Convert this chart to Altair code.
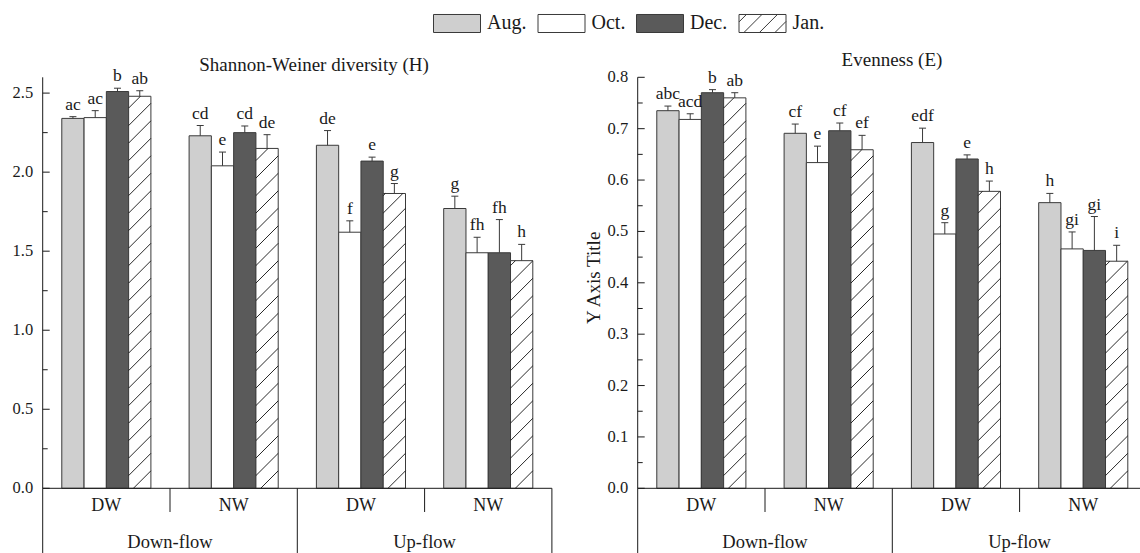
import altair as alt
import pandas as pd

# ---------------- data ----------------
MONTHS = ["Aug.", "Oct.", "Dec.", "Jan."]
SITES = ["DW", "NW", "DW", "NW"]
FLOWS = ["Down-flow", "Up-flow"]

# Shannon-Weiner diversity (H): groups Down-DW, Down-NW, Up-DW, Up-NW; months Aug, Oct, Dec, Jan
H_VALUES = [2.34, 2.345, 2.51, 2.48,
            2.23, 2.04, 2.25, 2.15,
            2.17, 1.62, 2.07, 1.865,
            1.77, 1.49, 1.49, 1.44]
H_ERRORS = [0.011, 0.044, 0.021, 0.035,
            0.065, 0.087, 0.042, 0.087,
            0.093, 0.072, 0.025, 0.063,
            0.078, 0.098, 0.21, 0.103]
H_LETTERS = ["ac", "ac", "b", "ab",
             "cd", "e", "cd", "de",
             "de", "f", "e", "g",
             "g", "fh", "fh", "h"]

# Evenness (E)
E_VALUES = [0.735, 0.718, 0.770, 0.760,
            0.691, 0.634, 0.696, 0.659,
            0.673, 0.495, 0.641, 0.578,
            0.556, 0.466, 0.463, 0.442]
E_ERRORS = [0.009, 0.011, 0.006, 0.010,
            0.018, 0.032, 0.015, 0.028,
            0.028, 0.022, 0.008, 0.020,
            0.018, 0.033, 0.066, 0.031]
E_LETTERS = ["abc", "acd", "b", "ab",
             "cf", "e", "cf", "ef",
             "edf", "g", "e", "h",
             "h", "gi", "gi", "i"]

H_MAX = 2.6
E_MAX = 0.8
H_MAJOR = [0.0, 0.5, 1.0, 1.5, 2.0, 2.5]
H_MINOR = [0.25, 0.75, 1.25, 1.75, 2.25]
E_MAJOR = [0.0, 0.1, 0.2, 0.3, 0.4, 0.5, 0.6, 0.7, 0.8]
E_MINOR = [0.05, 0.15, 0.25, 0.35, 0.45, 0.55, 0.65, 0.75]

H_TITLE = "Shannon-Weiner diversity (H)"
E_TITLE = "Evenness (E)"
E_AXIS_TITLE = "Y Axis Title"

# ---------------- style / layout ----------------
FONT = "Liberation Serif"
INK = "#1a1a1a"
EDGE = "#3a3a3a"
FILLS = ["#cfcfcf", "#ffffff", "#5a5a5a", "#ffffff"]

W, H = 1140, 553
PANEL_X0 = [42.7, 637.7]
PANEL_W = 509.2
Y_TOP, Y_BOT = 77.3, 488.3
OFF, BW = 0.15, 0.175          # bar offset / width in group units
HATCH_SPACING_PX = 17.5
CAP_HALF_PX = 3.5

# legend symbols (unit square paths)
HH = 18 / 47
RECT_PATH = f"M-1,{-HH:.3f}H1V{HH:.3f}H-1Z"


def hatch_path():
    segs = []
    b = -1.45
    while b < 1:
        t0 = max(0.0, (-1 - b) / (2 * HH))
        t1 = min(1.0, (1 - b) / (2 * HH))
        if t1 > t0:
            xa, ya = b + 2 * HH * t0, HH - 2 * HH * t0
            xb, yb = b + 2 * HH * t1, HH - 2 * HH * t1
            segs.append(f"M{xa:.3f},{ya:.3f}L{xb:.3f},{yb:.3f}")
        b += 0.66
    return RECT_PATH + "".join(segs)


SHAPES = [RECT_PATH, RECT_PATH, RECT_PATH, hatch_path()]

LEG = alt.Legend(title=None, orient="none", legendX=433, legendY=-1, direction="horizontal",
                 symbolSize=2209, symbolStrokeColor=EDGE, symbolStrokeWidth=1, symbolOpacity=1,
                 labelFont=FONT, labelFontSize=20, labelColor=INK, labelOffset=6,
                 columnPadding=8.5, padding=0)
FILL_SCALE = alt.Scale(domain=MONTHS, range=FILLS)
SHAPE_SCALE = alt.Scale(domain=MONTHS, range=SHAPES)
STROKE_SCALE = alt.Scale(domain=MONTHS, range=[EDGE] * 4)


def make_df(values, errors, letters):
    return pd.DataFrame({
        "gi": [i // 4 for i in range(len(values))],
        "mi": [i % 4 for i in range(len(values))],
        "month": [MONTHS[i % 4] for i in range(len(values))],
        "value": values,
        "err": errors,
        "letter": letters,
    })


def panel(df, ymax, x0, major, minor, title, title_x, title_y, axis_title, with_legend):
    xs = alt.Scale(domain=[0, 4], range=[x0, x0 + PANEL_W], nice=False, zero=False)
    ys = alt.Scale(domain=[0, ymax], range=[Y_BOT, Y_TOP], nice=False, zero=False)
    px_x = PANEL_W / 4
    px_y = (Y_BOT - Y_TOP) / ymax
    rise = BW * px_x / px_y
    spacing = HATCH_SPACING_PX / px_y
    cap = CAP_HALF_PX / px_x

    base = alt.Chart(df).transform_calculate(
        xl=f"datum.gi + {OFF} + datum.mi * {BW}",
        xr=f"datum.xl + {BW}",
        xc=f"datum.xl + {BW / 2}",
        cl=f"datum.xc - {cap}",
        cr=f"datum.xc + {cap}",
        top="datum.value + datum.err",
        zero="0",
    )

    bars = base.mark_rect(stroke=EDGE, strokeWidth=1).encode(
        x=alt.X("xl:Q", scale=xs, axis=None), x2="xr:Q",
        y=alt.Y("value:Q", scale=ys, axis=None), y2="zero:Q",
        fill=alt.Fill("month:N", scale=FILL_SCALE, legend=LEG),
    )

    hatch = base.transform_filter("datum.mi == 3").transform_calculate(
        k=f"sequence(0, ceil((datum.value + {rise}) / {spacing}) + 1)"
    ).transform_flatten(["k"]).transform_calculate(
        y0=f"datum.k * {spacing} - {rise}"
    ).transform_filter(
        f"datum.y0 < datum.value && datum.y0 + {rise} > 0"
    ).transform_calculate(
        ya="max(datum.y0, 0)",
        yb=f"min(datum.y0 + {rise}, datum.value)",
        xa=f"datum.xl + (datum.ya - datum.y0) / {rise} * {BW}",
        xb=f"datum.xl + (datum.yb - datum.y0) / {rise} * {BW}",
    ).mark_rule(color="#111111", strokeWidth=0.9).encode(
        x=alt.X("xa:Q", scale=xs, axis=None), x2="xb:Q",
        y=alt.Y("ya:Q", scale=ys, axis=None), y2="yb:Q",
    )

    errbar = base.mark_rule(color=EDGE, strokeWidth=1).encode(
        x=alt.X("xc:Q", scale=xs, axis=None),
        y=alt.Y("value:Q", scale=ys, axis=None), y2="top:Q",
    )
    caps = base.mark_rule(color=EDGE, strokeWidth=1).encode(
        x=alt.X("cl:Q", scale=xs, axis=None), x2="cr:Q",
        y=alt.Y("top:Q", scale=ys, axis=None),
    )
    letters = base.mark_text(font=FONT, fontSize=17.5, color=INK, baseline="alphabetic", dy=-7).encode(
        x=alt.X("xc:Q", scale=xs, axis=None),
        y=alt.Y("top:Q", scale=ys, axis=None),
        text="letter:N",
    )

    # y axis: domain line, inward ticks, labels, title
    domain = alt.Chart(pd.DataFrame({"hi": [ymax]})).transform_calculate(lo="0").mark_rule(
        color=INK).encode(y=alt.Y("lo:Q", scale=ys, axis=None), y2="hi:Q", x=alt.value(x0))
    maj = alt.Chart(pd.DataFrame({"v": major})).mark_rule(color=INK).encode(
        y=alt.Y("v:Q", scale=ys, axis=None), x=alt.value(x0), x2=alt.value(x0 + 7))
    mnr = alt.Chart(pd.DataFrame({"v": minor})).mark_rule(color=INK).encode(
        y=alt.Y("v:Q", scale=ys, axis=None), x=alt.value(x0), x2=alt.value(x0 + 5))
    tick_lab = alt.Chart(pd.DataFrame({"v": major})).transform_calculate(
        lab="format(datum.v, '.1f')").mark_text(
        font=FONT, fontSize=16.5, color=INK, align="right", baseline="middle").encode(
        y=alt.Y("v:Q", scale=ys, axis=None), x=alt.value(x0 - 9.5), text="lab:N")

    # category table under the axis
    n = len(SITES)
    baseline = alt.Chart(pd.DataFrame({"n": [n]})).transform_calculate(a="0", y="0").mark_rule(
        color=INK).encode(x=alt.X("a:Q", scale=xs, axis=None), x2="n:Q",
                          y=alt.Y("y:Q", scale=ys, axis=None))
    long_div = alt.Chart(pd.DataFrame({"fi": list(range(len(FLOWS) + 1))})).transform_calculate(
        pos="datum.fi * 2", y="0").mark_rule(color=INK).encode(
        x=alt.X("pos:Q", scale=xs, axis=None), y=alt.Y("y:Q", scale=ys, axis=None), y2=alt.value(H))
    short_div = alt.Chart(pd.DataFrame({"fi": list(range(len(FLOWS)))})).transform_calculate(
        pos="datum.fi * 2 + 1", y="0").mark_rule(color=INK).encode(
        x=alt.X("pos:Q", scale=xs, axis=None), y=alt.Y("y:Q", scale=ys, axis=None), y2=alt.value(512))
    site_lab = alt.Chart(pd.DataFrame({"site": SITES, "gi": list(range(n))})).transform_calculate(
        pos="datum.gi + 0.5").mark_text(font=FONT, fontSize=18, color=INK, baseline="middle").encode(
        x=alt.X("pos:Q", scale=xs, axis=None), y=alt.value(506), text="site:N")
    flow_lab = alt.Chart(pd.DataFrame({"flow": FLOWS, "fi": list(range(len(FLOWS)))})).transform_calculate(
        pos="datum.fi * 2 + 1").mark_text(font=FONT, fontSize=18.5, color=INK, baseline="middle").encode(
        x=alt.X("pos:Q", scale=xs, axis=None), y=alt.value(542), text="flow:N")

    ttl = alt.Chart(pd.DataFrame({"t": [title]})).mark_text(
        font=FONT, fontSize=19, color=INK, baseline="middle").encode(
        text="t:N", x=alt.value(title_x), y=alt.value(title_y))

    layers = [bars, hatch, errbar, caps, letters, domain, maj, mnr, tick_lab, baseline,
              long_div, short_div, site_lab, flow_lab, ttl]
    if axis_title:
        ytitle = alt.Chart(pd.DataFrame({"t": [axis_title]})).mark_text(
            font=FONT, fontSize=19, color=INK, baseline="middle", angle=270).encode(
            text="t:N", x=alt.value(x0 - 44), y=alt.value((Y_TOP + Y_BOT) / 2 - 5))
        layers.append(ytitle)
    if with_legend:
        legend_pts = base.mark_point(opacity=0, filled=True).encode(
            x=alt.X("xc:Q", scale=xs, axis=None),
            y=alt.Y("value:Q", scale=ys, axis=None),
            fill=alt.Fill("month:N", scale=FILL_SCALE, legend=LEG),
            shape=alt.Shape("month:N", scale=SHAPE_SCALE, legend=LEG),
            stroke=alt.Stroke("month:N", scale=STROKE_SCALE, legend=LEG),
        )
        layers.append(legend_pts)
    return alt.layer(*layers)


p1 = panel(make_df(H_VALUES, H_ERRORS, H_LETTERS), H_MAX, PANEL_X0[0], H_MAJOR, H_MINOR,
           H_TITLE, 314, 65, None, True)
p2 = panel(make_df(E_VALUES, E_ERRORS, E_LETTERS), E_MAX, PANEL_X0[1], E_MAJOR, E_MINOR,
           E_TITLE, 892, 59.5, E_AXIS_TITLE, False)

chart = alt.layer(p1, p2).resolve_scale(x="independent", y="independent").properties(
    width=W, height=H, autosize=alt.AutoSizeParams(type="none"), padding=0,
).configure_view(strokeWidth=0)

chart.save("out.html", embed_options={"renderer": "svg", "actions": False})
